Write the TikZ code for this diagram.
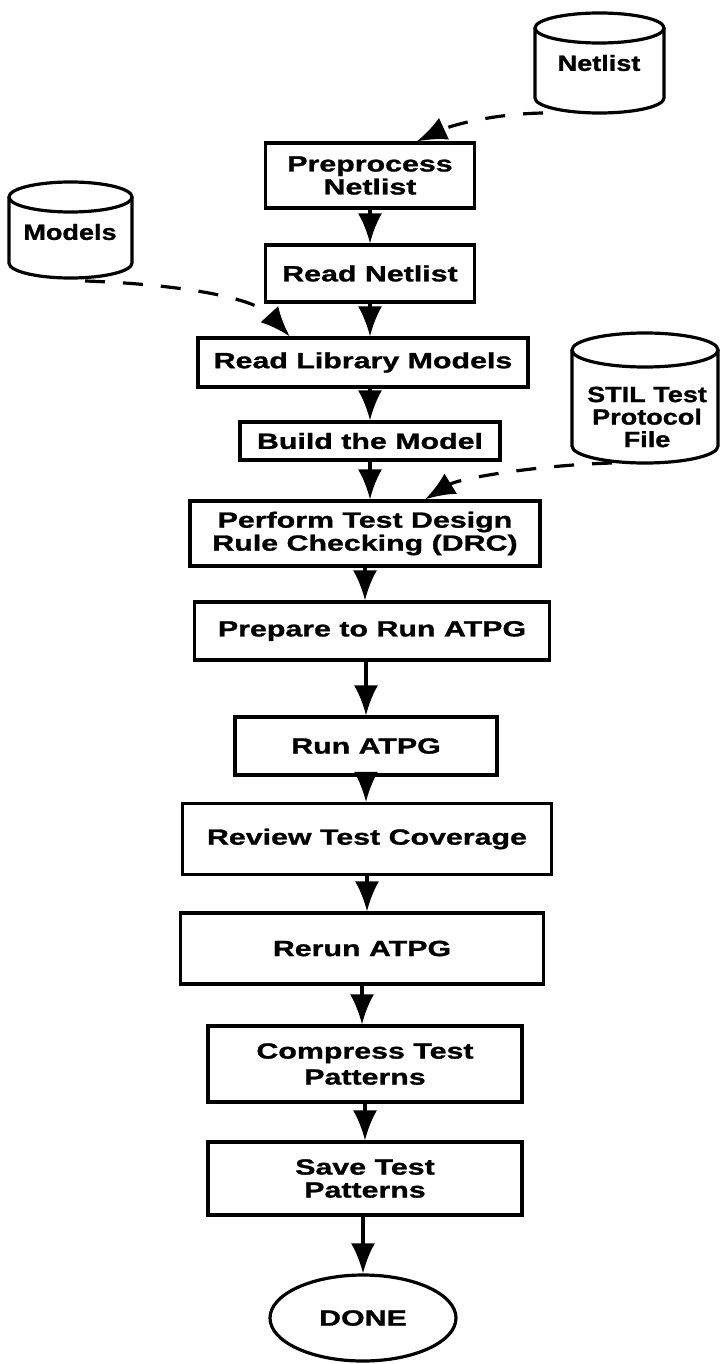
\documentclass[tikz,border=0pt]{standalone}
\usepackage{fontspec}
\setmainfont{Liberation Sans}
\newfontfamily\boxfont{Liberation Sans}[FakeStretch=1.38, FakeBold=1.2]
\newfontfamily\cylfont{Liberation Sans}[FakeStretch=1.23, FakeBold=1.2]
\usetikzlibrary{arrows.meta,calc,shapes.geometric}
\tikzset{
  stepbox/.style={draw, line width=3.2pt, inner sep=0pt, align=center,
    font=\boxfont\bfseries\fontsize{22}{23}\selectfont},
  cyltext/.style={inner sep=0pt, align=center,
    font=\cylfont\bfseries\fontsize{22}{22.5}\selectfont},
  cylline/.style={line width=3.2pt},
  arr/.style={line width=3.2pt, -{Latex[length=30pt,width=24pt]}},
  dsh/.style={line width=3pt, dash pattern=on 20pt off 18pt}
}
\begin{document}
\begin{tikzpicture}[x=1pt,y=1pt,yscale=-1]
\useasboundingbox (0,0) rectangle (721,1364);
% databases
\draw[cylline] (599.5,28) ellipse[x radius=64.5pt, y radius=15pt];
\draw[cylline] (535,28) -- (535,98) arc[start angle=180,end angle=0,x radius=64.5pt,y radius=15pt] -- (664,28);
\node[cyltext] (netlist) at (599,63) {Netlist};
\draw[cylline] (70.5,197) ellipse[x radius=61.5pt, y radius=15pt];
\draw[cylline] (9,197) -- (9,263) arc[start angle=180,end angle=0,x radius=61.5pt,y radius=15pt] -- (132,197);
\node[cyltext] (models) at (70,232) {Models};
\draw[cylline] (645,350) ellipse[x radius=73pt, y radius=17pt];
\draw[cylline] (572,350) -- (572,446) arc[start angle=180,end angle=0,x radius=73pt,y radius=17pt] -- (718,350);
\node[cyltext] (stil) at (647,417) {STIL Test\\Protocol\\File};
\coordinate (nlout) at (543,113);
\coordinate (mdout) at (85,281);
\coordinate (stout) at (612,463);
% steps
\node[stepbox, minimum width=209pt, minimum height=65pt] (pre) at (370,175.5) {Preprocess\\Netlist};
\node[stepbox, minimum width=209pt, minimum height=57pt] (rn) at (370,273.5) {Read Netlist};
\node[stepbox, minimum width=330pt, minimum height=49pt] (rlm) at (363,362.5) {Read Library Models};
\node[stepbox, minimum width=260pt, minimum height=38pt] (build) at (370,441) {Build the Model};
\node[stepbox, minimum width=350pt, minimum height=65pt] (drc) at (365,533.5) {Perform Test Design\\Rule Checking (DRC)};
\node[stepbox, minimum width=355pt, minimum height=58pt] (prep) at (372,631) {Prepare to Run ATPG};
\node[stepbox, minimum width=262pt, minimum height=58pt] (run) at (366,746) {Run ATPG};
\node[stepbox, minimum width=369pt, minimum height=71pt] (rev) at (367,839) {Review Test Coverage};
\node[stepbox, minimum width=363pt, minimum height=71pt] (rerun) at (362,948.5) {Rerun ATPG};
\node[stepbox, minimum width=314pt, minimum height=76pt, font=\boxfont\bfseries\fontsize{22}{26}\selectfont] (comp) at (365,1064) {Compress Test\\Patterns};
\node[stepbox, minimum width=314pt, minimum height=73pt] (save) at (365,1178.5) {Save Test\\Patterns};
\node[stepbox, ellipse, minimum width=186pt, minimum height=86pt] (done) at (363,1318) {DONE};
% flow
\draw[arr] (pre.south) -- (rn.north);
\draw[arr] (rn.south -| build.north) -- (rlm.north -| build.north);
\draw[arr] (rlm.south -| build.north) -- (build.north);
\draw[arr] (build.south) -- (build.south |- drc.north);
\draw[arr] (drc.south) -- (prep.north -| drc.south);
\draw[arr] (prep.south -| run.north) -- (run.north);
\draw[arr] (run.south) -- (rev.north -| run.south);
\draw[arr] (rev.south) -- (rerun.north -| rev.south);
\draw[arr] (rerun.south) -- (comp.north -| rerun.south);
\draw[arr] (comp.south) -- (save.north);
\draw[arr] (save.south -| done.north) -- (done.north);
% data flows
\draw[dsh, arr] (nlout) .. controls (490,114) and (450,126) .. ($(pre.north west)!0.72!(pre.north east)$);
\draw[dsh, arr] (mdout) .. controls (150,283) and (250,293) .. ($(rlm.north west)!0.28!(rlm.north east)$);
\draw[dsh, arr] (stout) .. controls (540,465) and (460,478) .. ($(drc.north west)!0.67!(drc.north east)$);
\end{tikzpicture}
\end{document}
